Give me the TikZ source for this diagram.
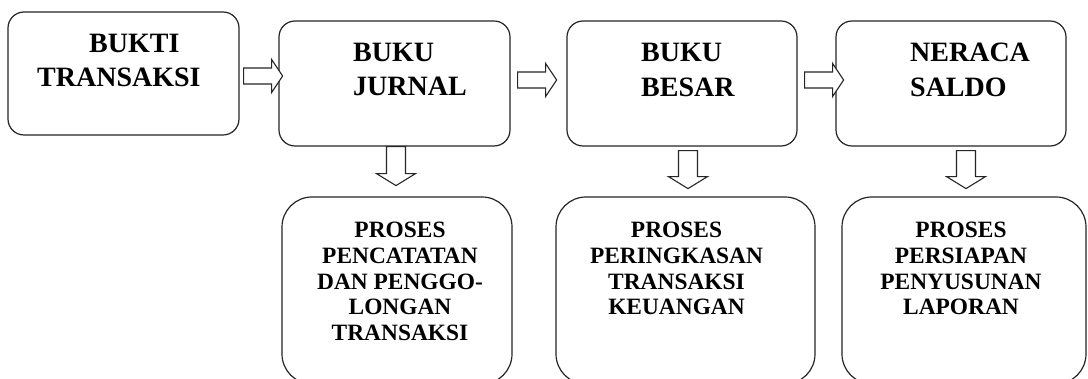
\documentclass[tikz,border=0pt]{standalone}
\usepackage{fontspec}
\setmainfont{Liberation Serif}
\usetikzlibrary{calc}
\tikzset{
  topbox/.style={draw=black!85, line width=1.2pt, rounded corners=16pt, inner sep=0pt, fill=white},
  botbox/.style={draw=black!85, line width=1.2pt, rounded corners=30pt, inner sep=0pt, fill=white},
  blk/.style={draw=black!85, line width=1.1pt, fill=white, line join=miter},
  toptxt/.style={font=\fontsize{28}{34}\selectfont\bfseries, inner sep=0pt, anchor=base west},
  bottxt/.style={font=\fontsize{23.4}{26}\selectfont\bfseries, inner sep=0pt, anchor=base}
}
% horizontal block arrow: #1 tail coordinate, #2 total length
\newcommand{\rblock}[2]{%
  \draw[blk] (#1) ++(0,-8) -- ++(#2-11,0) -- ++(0,-8.5) -- ++(11,16.5) -- ++(-11,16.5) -- ++(0,-8.5) -- ++(-#2+11,0) -- cycle;}
% vertical block arrow: #1 tail coordinate, #2 total length
\newcommand{\dblock}[2]{%
  \draw[blk] (#1) ++(-9.5,0) -- ++(0,#2-12) -- ++(-10,0) -- ++(19.5,12) -- ++(19.5,-12) -- ++(-10,0) -- ++(0,-#2+12) -- cycle;}
\begin{document}
\begin{tikzpicture}[x=1pt,y=-1pt]
\useasboundingbox (0,0) rectangle (1088,379);
\fill[white] (0,0) rectangle (1088,379);
% top boxes
\node[topbox, minimum width=231pt, minimum height=123pt] (b1) at (123.5,73.5) {};
\node[topbox, minimum width=231pt, minimum height=125pt] (b2) at (394.5,83.5) {};
\node[topbox, minimum width=230pt, minimum height=125pt] (b3) at (682,83.5) {};
\node[topbox, minimum width=230pt, minimum height=125pt] (b4) at (951,83.5) {};
% bottom boxes
\node[botbox, minimum width=230pt, minimum height=187pt] (p1) at (397,290.5) {};
\node[botbox, minimum width=259pt, minimum height=187pt] (p2) at (685.5,290.5) {};
\node[botbox, minimum width=244pt, minimum height=187pt] (p3) at (964,290.5) {};
% top texts
\node[toptxt] (t1a) at (89,53) {BUKTI};
\node[toptxt] (t1b) at (37,87) {TRANSAKSI};
\node[toptxt] (t2a) at (353,62) {BUKU};
\node[toptxt] (t2b) at (353,96) {JURNAL};
\node[toptxt] (t3a) at (641,62) {BUKU};
\node[toptxt] (t3b) at (641,97) {BESAR};
\node[toptxt] (t4a) at (910,62) {NERACA};
\node[toptxt] (t4b) at (910,97) {SALDO};
% bottom texts
\node[bottxt] (u1a) at (400,238) {PROSES};
\node[bottxt] (u1b) at (400,264) {PENCATATAN};
\node[bottxt] (u1c) at (400,290) {DAN PENGGO-};
\node[bottxt] (u1d) at (400,315) {LONGAN};
\node[bottxt] (u1e) at (400,341) {TRANSAKSI};
\node[bottxt] (u2a) at (676.5,238) {PROSES};
\node[bottxt] (u2b) at (676.5,264) {PERINGKASAN};
\node[bottxt] (u2c) at (676.5,290) {TRANSAKSI};
\node[bottxt] (u2d) at (676.5,315) {KEUANGAN};
\node[bottxt] (u3a) at (961,238) {PROSES};
\node[bottxt] (u3b) at (961,264) {PERSIAPAN};
\node[bottxt] (u3c) at (961,290) {PENYUSUNAN};
\node[bottxt] (u3d) at (961,315) {LAPORAN};
% horizontal arrows
\coordinate (h1) at ($(b1.east)+(4,2.5)$);
\coordinate (h2) at ($(b2.east)+(7,-3.5)$);
\coordinate (h3) at ($(b3.east)+(7,-3.5)$);
\rblock{h1}{39}
\rblock{h2}{39}
\rblock{h3}{39}
% vertical arrows
\coordinate (v1) at ($(b2.south)+(1.5,0)$);
\coordinate (v2) at ($(b3.south)+(6,4)$);
\coordinate (v3) at ($(b4.south)+(15,4)$);
\dblock{v1}{39}
\dblock{v2}{38}
\dblock{v3}{38}
\end{tikzpicture}
\end{document}
